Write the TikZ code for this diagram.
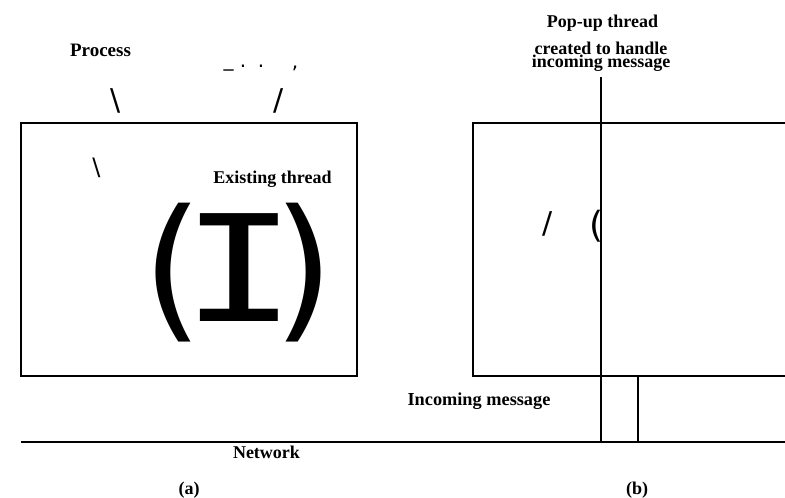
\documentclass[tikz,border=0pt]{standalone}
\usepackage{fontspec}
\usepackage{graphicx}
\setmainfont{Liberation Serif}
\newfontfamily\djs{DejaVu Sans}
\newfontfamily\djm{DejaVu Sans Mono}
\tikzset{
  lbl/.style={font=\fontsize{18}{18}\selectfont\bfseries, inner sep=0pt, anchor=base},
  glyph/.style={inner sep=0pt, anchor=center},
  frame/.style={line width=1.4pt},
}
\begin{document}
\begin{tikzpicture}[x=1pt,y=-1pt]
\useasboundingbox (0,0) rectangle (785,498);
% (a)
\draw[frame] (21,123) rectangle (357,376);
\node[lbl, font=\fontsize{19}{19}\selectfont\bfseries] (process) at (100.5,56) {Process};
\node[glyph, font=\djs\fontsize{20}{20}\selectfont] (us) at (228.5,69) {\_};
\node[glyph, font=\djs\fontsize{20}{20}\selectfont] (d1) at (243,66) {.};
\node[glyph, font=\djs\fontsize{20}{20}\selectfont] (d2) at (261,66) {.};
\node[glyph, font=\djs\fontsize{20}{20}\selectfont] (cm) at (295,68.5) {,};
\node[glyph, font=\djs\fontsize{30}{30}\selectfont] (bs1) at (116,100.5) {\textbackslash};
\node[glyph, font=\djs\fontsize{30}{30}\selectfont] (sl1) at (279,101) {/};
\node[glyph, font=\djs\fontsize{24}{24}\selectfont] (bs2) at (96.5,168) {\textbackslash};
\node[lbl] (existing) at (272.5,183) {Existing thread};
\node[inner sep=0pt, anchor=base] (bigI) at (238.5,321)
  {{\djm\fontsize{156}{156}\selectfont(}\kern-36.5pt{\djm\fontsize{148}{148}\selectfont\scalebox{1.3}[1]{I}}\kern-38pt{\djm\fontsize{156}{156}\selectfont)}};
% (b)
\draw[frame] (785,123) -- (473,123) -- (473,376) -- (785,376);
\coordinate (vtop) at (601,77);
\coordinate (vbot) at (601,442);
\coordinate (mtop) at (638,376);
\coordinate (mbot) at (638,442);
\draw[frame] (vtop) -- (vbot);
\draw[frame] (mtop) -- (mbot);
\node[lbl] (popup) at (602.5,27) {Pop-up thread};
\node[lbl] (created) at (601,54.5) {created to handle};
\node[lbl] (incoming) at (601,67) {incoming message};
\node[glyph, font=\djs\fontsize{30}{30}\selectfont] (sl2) at (548,223.5) {/};
\node[glyph, font=\djs\fontsize{36}{36}\selectfont] (pl2) at (597,226) {(};
\node[lbl, font=\fontsize{18.3}{18.3}\selectfont\bfseries] (inmsg) at (479,405) {Incoming message};
% network
\coordinate (nl) at (21,442);
\coordinate (nr) at (785,442);
\draw[frame] (nl) -- (nr);
\node[lbl] (network) at (266.5,458) {Network};
\node[lbl] (capa) at (189,494) {(a)};
\node[lbl] (capb) at (637,494) {(b)};
\end{tikzpicture}
\end{document}
